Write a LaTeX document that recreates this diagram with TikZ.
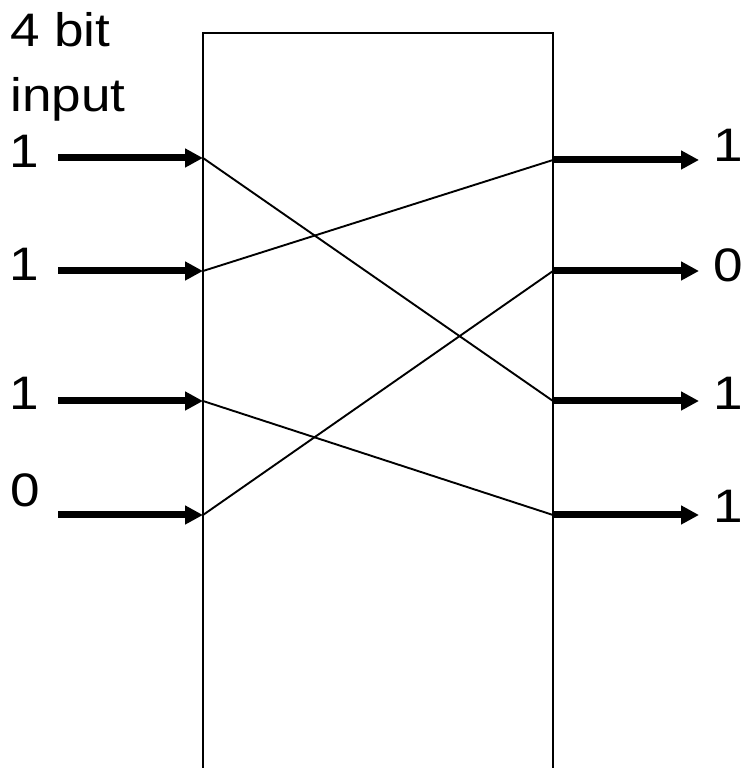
\documentclass[tikz,border=0pt]{standalone}
\usepackage{fontspec}
\setmainfont{Liberation Sans}
\usetikzlibrary{arrows.meta}

\begin{document}
\begin{tikzpicture}[x=1pt,y=1pt,
 bit/.style={anchor=base west,inner sep=0pt,font=\fontsize{47}{65}\selectfont,xscale=1.13,transform shape},
 wire/.style={line width=7pt,-{Triangle[length=18pt,width=18pt]}},
 swap/.style={line width=1.9pt}]
\useasboundingbox (0,0) rectangle (746,768);
% box, open at the bottom
\draw[line width=2pt] (203,-5) |- (553,735) -- (553,-5);
% pins on the box
\coordinate (in1) at (203,610);
\coordinate (in2) at (203,497);
\coordinate (in3) at (203,367);
\coordinate (in4) at (203,253);
\coordinate (out1) at (553,608);
\coordinate (out2) at (553,497);
\coordinate (out3) at (553,367);
\coordinate (out4) at (553,253);
% labels
\node[bit] (title) at (10,721) {4 bit};
\node[bit] (title2) at (10,656) {input};
\node[bit] (a1) at (9,600) {1};
\node[bit] (a2) at (9,487) {1};
\node[bit] (a3) at (9,358) {1};
\node[bit] (a4) at (10,261) {0};
\node[bit] (b1) at (713,606) {1};
\node[bit] (b2) at (713,486) {0};
\node[bit] (b3) at (713,358) {1};
\node[bit] (b4) at (713,245) {1};
% input and output wires
\foreach \i in {1,...,4}{
 \draw[wire] ([xshift=-145]in\i) -- (in\i);
 \draw[wire] (out\i) -- ([xshift=146]out\i);
}
% crossings
\draw[swap] (in1) -- (out3);
\draw[swap] (in2) -- (out1);
\draw[swap] (in3) -- (out4);
\draw[swap] (in4) -- (out2);
\end{tikzpicture}
\end{document}
